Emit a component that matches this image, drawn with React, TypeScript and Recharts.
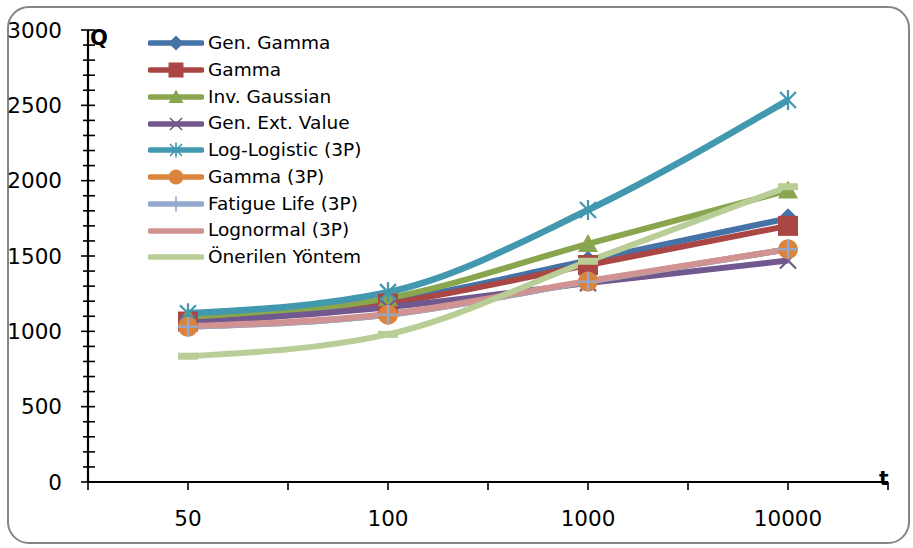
import { LineChart, Line, XAxis, YAxis, Legend } from 'recharts';

// return periods on the horizontal axis
const categories = ['50', '100', '1000', '10000'];

// discharge estimates per distribution
const genGamma = [1075, 1200, 1470, 1750];
const gamma = [1065, 1185, 1440, 1700];
const invGaussian = [1095, 1220, 1580, 1935];
const genExtValue = [1055, 1160, 1320, 1470];
const logLogistic = [1120, 1260, 1805, 2535];
const gamma3p = [1030, 1110, 1330, 1545];
const fatigueLife3p = [1030, 1110, 1330, 1545];
const lognormal3p = [1035, 1115, 1335, 1545];
const onerilen = [835, 980, 1465, 1960];

const yLabels = [0, 500, 1000, 1500, 2000, 2500, 3000];
const yMinorStep = 100;
const yTicks = Array.from({ length: 3000 / yMinorStep + 1 }, (_, i) => i * yMinorStep);
const xTicks = [-0.5, 0, 0.5, 1, 1.5, 2, 2.5, 3, 3.5];

type MarkerKind = 'diamond' | 'square' | 'triangle' | 'x' | 'star' | 'circle' | 'plus' | 'dash' | 'none';

const SERIES: { key: string; name: string; values: number[]; color: string; marker: MarkerKind }[] = [
  { key: 'genGamma', name: 'Gen. Gamma', values: genGamma, color: '#4572A7', marker: 'diamond' },
  { key: 'gamma', name: 'Gamma', values: gamma, color: '#AA4643', marker: 'square' },
  { key: 'invGaussian', name: 'Inv. Gaussian', values: invGaussian, color: '#89A54E', marker: 'triangle' },
  { key: 'genExtValue', name: 'Gen. Ext. Value', values: genExtValue, color: '#71588F', marker: 'x' },
  { key: 'logLogistic', name: 'Log-Logistic (3P)', values: logLogistic, color: '#4198AF', marker: 'star' },
  { key: 'gamma3p', name: 'Gamma (3P)', values: gamma3p, color: '#DB843D', marker: 'circle' },
  { key: 'fatigueLife3p', name: 'Fatigue Life (3P)', values: fatigueLife3p, color: '#93A9CF', marker: 'plus' },
  { key: 'lognormal3p', name: 'Lognormal (3P)', values: lognormal3p, color: '#D19392', marker: 'none' },
  { key: 'onerilen', name: 'Önerilen Yöntem', values: onerilen, color: '#B9CD96', marker: 'dash' },
];

const data = categories.map((label, i) => {
  const row: Record<string, number | string> = { pos: i, label };
  for (const s of SERIES) row[s.key] = s.values[i];
  return row;
});

const FONT = "'DejaVu Sans', sans-serif";

function marker(kind: MarkerKind, cx: number, cy: number, r: number, color: string, key?: string) {
  const sw = Math.max(1.5, r / 4.5);
  switch (kind) {
    case 'diamond':
      return <polygon key={key} points={`${cx},${cy - r} ${cx + r},${cy} ${cx},${cy + r} ${cx - r},${cy}`} fill={color} />;
    case 'square':
      return <rect key={key} x={cx - r} y={cy - r} width={2 * r} height={2 * r} fill={color} />;
    case 'triangle':
      return <polygon key={key} points={`${cx},${cy - r} ${cx + r},${cy + r * 0.8} ${cx - r},${cy + r * 0.8}`} fill={color} />;
    case 'x':
      return (
        <g key={key} stroke={color} strokeWidth={sw}>
          <line x1={cx - r * 0.8} y1={cy - r * 0.8} x2={cx + r * 0.8} y2={cy + r * 0.8} />
          <line x1={cx - r * 0.8} y1={cy + r * 0.8} x2={cx + r * 0.8} y2={cy - r * 0.8} />
        </g>
      );
    case 'star':
      return (
        <g key={key} stroke={color} strokeWidth={sw}>
          <line x1={cx - r * 0.8} y1={cy - r * 0.8} x2={cx + r * 0.8} y2={cy + r * 0.8} />
          <line x1={cx - r * 0.8} y1={cy + r * 0.8} x2={cx + r * 0.8} y2={cy - r * 0.8} />
          <line x1={cx} y1={cy - r} x2={cx} y2={cy + r} />
        </g>
      );
    case 'circle':
      return <circle key={key} cx={cx} cy={cy} r={r} fill={color} />;
    case 'plus':
      return (
        <g key={key} stroke={color} strokeWidth={sw}>
          <line x1={cx} y1={cy - r} x2={cx} y2={cy + r} />
          <line x1={cx - r} y1={cy} x2={cx + r} y2={cy} />
        </g>
      );
    case 'dash':
      return <rect key={key} x={cx - r} y={cy - 3.5} width={2 * r} height={7} fill={color} />;
    default:
      return <g key={key} />;
  }
}

function YTick({ x, y, payload }: any) {
  const v = payload.value as number;
  const major = yLabels.includes(v);
  return (
    <g>
      <line x1={x - (major ? 7 : 5)} x2={x + 7} y1={y} y2={y} stroke="#000" strokeWidth={1.6} />
      {major && (
        <text x={x - 26} y={y} textAnchor="end" dominantBaseline="central" fontSize={21.5} fontFamily={FONT} fill="#000">
          {v}
        </text>
      )}
    </g>
  );
}

function XTick({ x, y, payload }: any) {
  const v = payload.value as number;
  const label = Number.isInteger(v) ? categories[v] : null;
  return (
    <g>
      <line x1={x} x2={x} y1={y} y2={y + 8} stroke="#000" strokeWidth={1.6} />
      {label && (
        <text x={x} y={y + 36} textAnchor="middle" dominantBaseline="central" fontSize={21.5} fontFamily={FONT} fill="#000">
          {label}
        </text>
      )}
    </g>
  );
}

function LegendBox() {
  return (
    <div style={{ fontFamily: FONT, fontSize: 18.5, color: '#000' }}>
      {SERIES.map((s) => (
        <div key={s.key} style={{ display: 'flex', alignItems: 'center', height: 26.75 }}>
          <svg width={56} height={26} style={{ display: 'block' }}>
            <line x1={2} x2={54} y1={13} y2={13} stroke={s.color} strokeWidth={5.5} strokeLinecap="round" />
            {marker(s.marker === 'dash' ? 'none' : s.marker, 28, 13, 7.5, s.color)}
          </svg>
          <span style={{ marginLeft: 4, whiteSpace: 'nowrap', lineHeight: 1 }}>{s.name}</span>
        </div>
      ))}
    </div>
  );
}

export default function App() {
  return (
    <div style={{ position: 'absolute', left: 0, top: 0, width: 913, height: 548, background: '#fff', fontFamily: FONT }}>
      <div
        style={{
          position: 'absolute',
          left: 7,
          top: 6,
          width: 903,
          height: 538,
          border: '2px solid #858585',
          borderRadius: 22,
          boxSizing: 'border-box',
        }}
      />
      <LineChart width={913} height={548} data={data} margin={{ top: 30, right: 25, bottom: 26, left: 8 }} style={{ position: 'absolute', left: 0, top: 0 }}>
        <XAxis
          dataKey="pos"
          type="number"
          domain={[-0.5, 3.5]}
          ticks={xTicks}
          interval={0}
          height={40}
          tickSize={0}
          tickMargin={0}
          tickLine={false}
          tick={<XTick />}
          axisLine={{ stroke: '#000', strokeWidth: 2.2 }}
        />
        <YAxis
          type="number"
          domain={[0, 3000]}
          ticks={yTicks}
          interval={0}
          width={80}
          tickSize={0}
          tickMargin={0}
          tickLine={false}
          tick={<YTick />}
          axisLine={{ stroke: '#000', strokeWidth: 2.2 }}
        />
        <Legend
          layout="vertical"
          align="center"
          verticalAlign="middle"
          content={<LegendBox />}
          wrapperStyle={{ left: 148, top: 30, width: 290, height: 245 }}
        />
        {SERIES.map((s) => (
          <Line
            key={s.key}
            dataKey={s.key}
            name={s.name}
            type="monotone"
            stroke={s.color}
            strokeWidth={s.key === 'logLogistic' ? 6.5 : 6}
            isAnimationActive={false}
            activeDot={false}
            dot={(p: any) => marker(s.marker, p.cx, p.cy, 10, s.color, `${s.key}-${p.index}`)}
          />
        ))}
      </LineChart>
      <span style={{ position: 'absolute', left: 90, top: 28, fontSize: 21, fontWeight: 'bold', lineHeight: 1 }}>Q</span>
      <span style={{ position: 'absolute', left: 879, top: 468, fontSize: 20, fontWeight: 'bold', lineHeight: 1 }}>t</span>
    </div>
  );
}
